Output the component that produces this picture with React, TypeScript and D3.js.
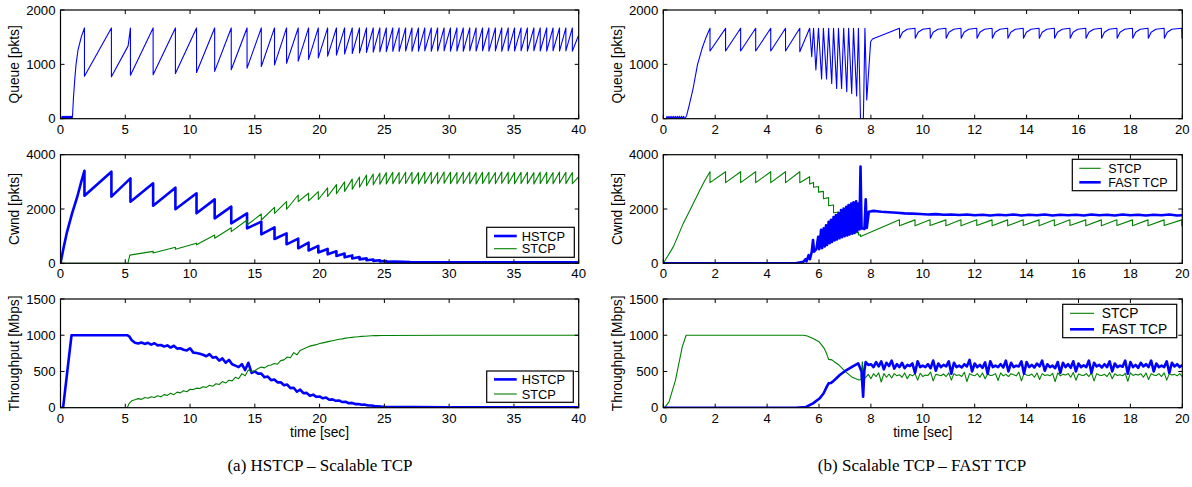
import React from "react";
import * as d3 from "d3";

type Pt = [number, number];

// ================= (a) HSTCP – Scalable TCP =================
const lossA = [1.85, 3.93, 5.4, 7.15, 8.87, 10.5, 11.9, 13.18, 14.4, 15.5, 16.52, 17.45, 18.35, 19.15, 19.9, 20.62, 21.3, 21.93, 22.52, 23.08, 23.62, 24.14, 24.65, 25.15, 25.65, 26.14, 26.64, 27.13, 27.63, 28.12, 28.62, 29.11, 29.61, 30.1, 30.6, 31.09, 31.59, 32.08, 32.58, 33.07, 33.57, 34.06, 34.56, 35.05, 35.55, 36.04, 36.54, 37.03, 37.53, 38.02, 38.52, 39.01, 39.51];

const queueA_peak = 1670;
const queueA_troughs = [780, 770, 800, 810, 830, 850, 870, 900, 930, 960, 990, 1020, 1060, 1090, 1120, 1150, 1170, 1190, 1200, 1210, 1220, 1225, 1230,
  1235, 1240, 1238, 1245, 1240, 1242, 1248, 1240, 1245, 1250, 1242, 1246, 1240, 1248, 1245, 1250, 1243, 1247, 1240, 1250, 1245, 1248, 1242, 1250, 1246, 1244, 1250, 1245, 1248, 1243];
const queueA_head: Pt[] = [[0, 0], [0.08, 0], [0.12, 45], [0.16, 5], [0.2, 45], [0.24, 5], [0.28, 45], [0.32, 5], [0.36, 45], [0.4, 5], [0.44, 45], [0.48, 5], [0.52, 45], [0.56, 5], [0.6, 45], [0.64, 5], [0.68, 45], [0.72, 5], [0.76, 45], [0.8, 5], [0.84, 45], [0.88, 5], [0.9, 0], [0.93, 60], [1.0, 380], [1.1, 720], [1.2, 1000], [1.35, 1260], [1.6, 1500]];
const queueA_extra: Pt[] = [[5.22, 1340], [40, 1540]];

const hsCwndA_peaks = [3410, 3375, 3130, 2945, 2785, 2577, 2355, 2086, 1840, 1534, 1325, 1104, 908, 760, 640, 530, 440, 360, 290, 230, 180, 140, 110, 85];
const hsCwndA_troughs = [2490, 2455, 2270, 2120, 1990, 1840, 1656, 1472, 1288, 1067, 896, 700, 552, 470, 400, 330, 270, 220, 180, 145, 115, 90, 70, 55];
const hsCwndA_head: Pt[] = [[0, 0], [0.25, 600], [0.5, 1150], [0.9, 1850], [1.3, 2460], [1.6, 3000]];
const hsCwndA_tail: Pt[] = [[25.7, 60], [27, 45], [40, 35]];

const stCwndA_peaks = [440, 590, 740, 1040, 1310, 1595, 1816, 2060, 2270, 2515, 2580, 2640, 2780, 2900, 3000, 3100, 3180, 3250, 3290, 3320,
  3340, 3350, 3345, 3355, 3350, 3340, 3355, 3350, 3345, 3360, 3350, 3345, 3355, 3350, 3340, 3355, 3350, 3345, 3360, 3350, 3345, 3355, 3350, 3340, 3355, 3350, 3345, 3360, 3350, 3345];
const stCwndA_troughs = [380, 515, 680, 920, 1165, 1410, 1595, 1840, 1990, 2270, 2300, 2350, 2460, 2560, 2650, 2730, 2800, 2860, 2890, 2910,
  2925, 2935, 2930, 2940, 2935, 2925, 2940, 2935, 2930, 2945, 2935, 2930, 2940, 2935, 2925, 2940, 2935, 2930, 2945, 2935, 2930, 2940, 2935, 2925, 2940, 2935, 2930, 2945, 2935, 2930];
const stCwndA_head: Pt[] = [[0, 0], [5.2, 0], [5.35, 300]];
const stCwndA_tail: Pt[] = [[40, 3190]];

const tpA_t0 = 5.5, tpA_dt = 0.25;
const tpA_hstcp = [930, 895, 885, 900, 880, 895, 870, 890, 860, 865,
  845, 860, 830, 855, 815, 820, 800, 790, 820, 760,
  755, 745, 730, 710, 740, 690, 700, 650, 680, 620,
  660, 600, 580, 560, 600, 520, 620, 480, 500, 470,
  470, 420, 430, 380, 390, 350, 350, 310, 320, 270,
  275, 220, 250, 200, 205, 165, 180, 150, 155, 130,
  140, 110, 115, 95, 100, 78, 82, 62, 66, 50,
  52, 40, 42, 30, 30, 22, 20, 15, 12];
const tpA_hstcp_head: Pt[] = [[0, 0], [0.2, 0], [0.85, 1000], [5.15, 1000], [5.3, 985]];
const tpA_hstcp_tail: Pt[] = [[30, 6], [40, 5]];
const tpA_stcp = [95, 110, 125, 115, 140, 130, 150, 140, 165, 150,
  180, 170, 200, 180, 215, 205, 235, 220, 255, 250,
  270, 265, 290, 280, 310, 295, 330, 320, 360, 340,
  380, 370, 420, 400, 470, 440, 520, 500, 510, 540,
  560, 550, 580, 590, 610, 600, 650, 660, 700, 690,
  760, 730, 790, 810, 830, 850, 860, 870, 885, 895,
  905, 915, 925, 935, 945, 950, 960, 965, 970, 975,
  980, 984, 987, 990, 992, 994, 995, 996, 997];
const tpA_stcp_head: Pt[] = [[0, 0], [5.15, 0], [5.3, 60]];
const tpA_stcp_tail: Pt[] = [[30, 1000], [40, 1000]];

// ================= (b) Scalable TCP – FAST TCP =================
const queueB_head: Pt[] = [[0, 0], [0.12, 0], [0.14, 45], [0.18, 5], [0.22, 45], [0.26, 5], [0.3, 45], [0.34, 5], [0.38, 45], [0.42, 5], [0.46, 45], [0.5, 5], [0.54, 45], [0.58, 5], [0.62, 45], [0.66, 5], [0.7, 45], [0.74, 5], [0.78, 45], [0.82, 5], [0.86, 20], [0.9, 60], [1.0, 250], [1.15, 560], [1.32, 1000], [1.5, 1300], [1.65, 1500]];
const lossB_early = [1.8, 2.4, 2.98, 3.56, 4.14, 4.71];
const queueB_peak = 1663;
const queueB_earlyTrough = [1245, 1245, 1245, 1245, 1245, 1245];
const queueB_chaos: Pt[] = [[5.26, 1663], [5.26, 1233], [5.64, 1663], [5.72, 1140], [5.79, 1663], [5.88, 896], [5.98, 1663], [6.1, 730], [6.17, 1663], [6.29, 730], [6.37, 1663], [6.49, 650], [6.56, 1663], [6.68, 558], [6.75, 1663], [6.87, 558], [6.95, 1663], [7.07, 497], [7.14, 1663], [7.26, 466], [7.33, 1663], [7.45, 417], [7.52, 1663], [7.6, 0], [7.71, 0], [7.77, 1663], [7.84, 343], [7.99, 1417], [8.06, 1466]];
const lossB = [9.1, 9.7, 10.28, 10.89, 11.47, 12.08, 12.67, 13.27, 13.87, 14.48, 15.07, 15.67, 16.28, 16.88, 17.48, 18.08, 18.68, 19.3, 19.98];
const queueB_toothDt = [0, 0.01, 0.12, 0.3];
const queueB_toothLevels = [1663, 1480, 1590, 1645];

const stCwndB_head: Pt[] = [[0, 0], [0.39, 613], [0.77, 1470], [1.16, 2210], [1.41, 2700], [1.6, 3050]];
const stCwndB_earlyTimes = [1.8, 2.4, 2.98, 3.56, 4.14, 4.71, 5.26, 5.64];
const stCwndB_earlyPeaks = [3374, 3374, 3374, 3374, 3374, 3374, 3374, 3190];
const stCwndB_earlyTroughs = [2970, 2970, 2970, 2970, 2970, 2970, 2970, 2920];
const stCwndB_stairTimes = [5.79, 5.98, 6.17, 6.37, 6.56, 6.75, 6.95, 7.14, 7.33, 7.52, 7.6];
const stCwndB_stairPeaks = [2980, 2830, 2650, 2420, 2150, 1890, 1630, 1430, 1280, 1140, 1050];
const stCwndB_stairTroughs = [2800, 2620, 2380, 2120, 1860, 1600, 1400, 1250, 1120, 1040, 990];
const stCwndB_lateTroughs = [1385, 1380, 1390, 1385, 1380, 1390, 1385, 1380, 1390, 1385, 1380, 1390, 1385, 1380, 1390, 1385, 1380, 1390, 1385];
const stCwndB_latePeak = 1600;
const stCwndB_tail: Pt[] = [[20, 1400]];

const fastCwndB_head: Pt[] = [[0, 0], [5.1, 0], [5.25, 30], [5.4, 60], [5.48, 150], [5.52, 70], [5.6, 300], [5.65, 150], [5.72, 420], [5.77, 860], [5.81, 430], [5.9, 520], [5.97, 980], [6.01, 520], [6.08, 1230], [6.12, 560], [6.18, 1290], [6.22, 620], [6.27, 1400], [6.31, 680], [6.37, 1530], [6.41, 740], [6.46, 1600], [6.5, 790], [6.56, 1700], [6.6, 840], [6.65, 1780], [6.69, 880], [6.75, 1850], [6.79, 920], [6.85, 1960], [6.89, 960], [6.95, 2020], [6.99, 1000], [7.05, 2080], [7.09, 1030], [7.14, 2150], [7.18, 1060], [7.24, 2200], [7.28, 1090], [7.33, 2250], [7.37, 1120], [7.43, 2280], [7.47, 1180], [7.52, 2200], [7.56, 1250], [7.6, 3560], [7.64, 1280], [7.72, 1290], [7.75, 1260], [7.8, 2360], [7.84, 1300], [7.92, 1900], [8.1, 1930]];
const fastCwndB_t0 = 8.4, fastCwndB_dt = 0.3;
const fastCwndB_vals = [1900, 1880, 1860, 1840, 1830, 1815, 1800, 1810, 1790, 1800,
  1780, 1800, 1770, 1790, 1760, 1790, 1770, 1800, 1760, 1790,
  1770, 1800, 1760, 1790, 1770, 1790, 1760, 1800, 1770, 1790,
  1760, 1800, 1770, 1790, 1760, 1790, 1770, 1800, 1760];
const fastCwndB_tail: Pt[] = [[20, 1770]];

const stTpB_head: Pt[] = [[0, 0], [0.05, 0], [0.22, 80], [0.47, 380], [0.73, 840], [0.88, 1000], [5.4, 1000], [5.55, 990], [5.75, 957], [6.0, 911], [6.2, 819], [6.3, 740], [6.37, 667], [6.5, 660], [6.6, 630], [6.77, 589], [7.02, 497], [7.28, 419], [7.54, 382], [7.62, 390], [7.67, 635], [7.72, 400], [7.8, 420]];
const stTpB_t0 = 7.9, stTpB_dt = 0.1;
const stTpB_vals = [460, 400, 470, 430, 480, 355, 470, 420, 465, 410,
  470, 440, 455, 420, 480, 400, 460, 440, 470, 380,
  475, 430, 450, 445, 490, 370, 460, 450, 440, 465,
  430, 480, 380, 470, 445, 455, 430, 490, 360, 470,
  450, 440, 470, 420, 480, 400, 465, 445, 450, 470,
  375, 480, 440, 460, 430, 470, 455, 440, 490, 370,
  470, 450, 445, 465, 420, 480, 390, 470, 445, 455,
  440, 475, 360, 480, 440, 460, 450, 470, 420, 485,
  380, 465, 450, 445, 470, 430, 480, 370, 470, 450,
  445, 460, 430, 485, 400, 470, 445, 455, 440, 475,
  365, 480, 445, 460, 450, 470, 420, 480, 390, 470,
  450, 445, 470, 430, 480, 380, 470, 450, 460, 440,
  470, 430];

const fastTpB_head: Pt[] = [[0, 0], [5.1, 0], [5.5, 10], [5.77, 60], [6.03, 130], [6.18, 200], [6.3, 290], [6.37, 336], [6.45, 340], [6.53, 360], [6.65, 400], [6.8, 451], [7.06, 520], [7.32, 575], [7.51, 612], [7.57, 560], [7.64, 500], [7.7, 152], [7.75, 520], [7.8, 630], [7.9, 590]];
const fastTpB_t0 = 8.0, fastTpB_dt = 0.1;
const fastTpB_vals = [600, 560, 630, 570, 640, 530, 620, 575, 650, 540,
  600, 560, 620, 545, 590, 575, 610, 480, 640, 560,
  580, 560, 600, 545, 650, 510, 610, 560, 590, 570,
  640, 470, 620, 560, 580, 555, 600, 570, 660, 500,
  610, 560, 590, 550, 625, 470, 640, 560, 580, 560,
  600, 555, 650, 500, 620, 560, 580, 570, 640, 470,
  630, 560, 590, 555, 610, 570, 650, 510, 600, 560,
  580, 545, 630, 480, 620, 560, 600, 550, 640, 500,
  610, 560, 585, 560, 650, 480, 620, 570, 590, 555,
  600, 560, 640, 500, 610, 560, 580, 565, 650, 470,
  630, 560, 590, 550, 620, 570, 600, 560, 650, 500,
  610, 560, 580, 560, 640, 480, 620, 570, 600, 560,
  590];

// ticks
const xTicksA = [0, 5, 10, 15, 20, 25, 30, 35, 40];
const xTicksB = [0, 2, 4, 6, 8, 10, 12, 14, 16, 18, 20];
const yTicksQueue = [0, 1000, 2000];
const yTicksCwnd = [0, 2000, 4000];
const yTicksTp = [0, 500, 1000, 1500];

// ---------- helpers ----------
const saw = (times: number[], peaks: number[] | number, troughs: number[]): Pt[] =>
  times.flatMap((t, i) => [[t, Array.isArray(peaks) ? peaks[i] : peaks], [t, troughs[i]]] as Pt[]);
const grid = (t0: number, dt: number, vals: number[]): Pt[] => vals.map((v, i) => [t0 + i * dt, v] as Pt);
const merge = (...parts: Pt[][]): Pt[] =>
  parts.flat().map((p, i) => ({ p, i })).sort((a, b) => a.p[0] - b.p[0] || a.i - b.i).map((d) => d.p);

const BLUE = "#0000ff";
const GREEN = "#008000";

const queueA = merge(queueA_head, queueA_extra, saw(lossA, queueA_peak, queueA_troughs));
const hsCwndA = merge(hsCwndA_head, saw(lossA.slice(0, hsCwndA_peaks.length), hsCwndA_peaks, hsCwndA_troughs), hsCwndA_tail);
const stCwndA = merge(stCwndA_head, saw(lossA.slice(3), stCwndA_peaks, stCwndA_troughs), stCwndA_tail);
const hsTpA = merge(tpA_hstcp_head, grid(tpA_t0, tpA_dt, tpA_hstcp), tpA_hstcp_tail);
const stTpA = merge(tpA_stcp_head, grid(tpA_t0, tpA_dt, tpA_stcp), tpA_stcp_tail);

const queueB = merge(
  queueB_head,
  saw(lossB_early, queueB_peak, queueB_earlyTrough),
  queueB_chaos,
  lossB.flatMap((t) => queueB_toothDt.map((dt, k) => [t + dt, queueB_toothLevels[k]] as Pt))
);
const stCwndB = merge(
  stCwndB_head,
  saw(stCwndB_earlyTimes, stCwndB_earlyPeaks, stCwndB_earlyTroughs),
  saw(stCwndB_stairTimes, stCwndB_stairPeaks, stCwndB_stairTroughs),
  saw(lossB, stCwndB_latePeak, stCwndB_lateTroughs),
  stCwndB_tail
);
const fastCwndB = merge(fastCwndB_head, grid(fastCwndB_t0, fastCwndB_dt, fastCwndB_vals), fastCwndB_tail);
const stTpB = merge(stTpB_head, grid(stTpB_t0, stTpB_dt, stTpB_vals));
const fastTpB = merge(fastTpB_head, grid(fastTpB_t0, fastTpB_dt, fastTpB_vals));

// ---------- layout ----------
const COLS = { a: { x0: 60.5, x1: 578.7 }, b: { x0: 663.3, x1: 1182.3 } };
const ROWS = [{ y0: 10, y1: 118.7 }, { y0: 154.7, y1: 263.3 }, { y0: 299, y1: 407.7 }];
const SANS = "'Liberation Sans', Arial, Helvetica, sans-serif";
const TICK_FS = 13.2;
const LABEL_FS = 13.8;

type Series = { pts: Pt[]; color: string; width: number };
type Legend = { w: number; h: number; right: number; top?: number; bottom?: number; rows: number[]; lx0: number; lx1: number; tx: number; fs: number; items: { label: string; color: string; width: number }[] };

function Panel(props: {
  id: string; col: { x0: number; x1: number }; row: { y0: number; y1: number };
  xDomain: [number, number]; xTicks: number[]; yDomain: [number, number]; yTicks: number[];
  ylabel: string; xlabel?: string; series: Series[]; legend?: Legend;
}) {
  const { id, col, row, xDomain, xTicks, yDomain, yTicks, ylabel, xlabel, series, legend } = props;
  const x = d3.scaleLinear().domain(xDomain).range([col.x0, col.x1]);
  const y = d3.scaleLinear().domain(yDomain).range([row.y1, row.y0]);
  const line = d3.line<Pt>().x((d) => x(d[0])).y((d) => y(d[1]));
  const tl = 4;
  let lg: React.ReactNode = null;
  if (legend) {
    const bx = col.x1 - legend.right - legend.w;
    const by = legend.top !== undefined ? row.y0 + legend.top : row.y1 - legend.bottom! - legend.h;
    lg = (
      <g>
        <rect x={bx} y={by} width={legend.w} height={legend.h} fill="#fff" stroke="#000" strokeWidth={1.2} />
        {legend.items.map((it, i) => (
          <g key={i}>
            <line x1={bx + legend.lx0} x2={bx + legend.lx1} y1={by + legend.rows[i]} y2={by + legend.rows[i]} stroke={it.color} strokeWidth={it.width} />
            <text x={bx + legend.tx} y={by + legend.rows[i]} dy="0.36em" fontSize={legend.fs} fontFamily={SANS} fill="#000">{it.label}</text>
          </g>
        ))}
      </g>
    );
  }
  return (
    <g>
      <defs>
        <clipPath id={id}>
          <rect x={col.x0} y={row.y0} width={col.x1 - col.x0} height={row.y1 - row.y0} />
        </clipPath>
      </defs>
      <rect x={col.x0} y={row.y0} width={col.x1 - col.x0} height={row.y1 - row.y0} fill="#fff" />
      <g clipPath={`url(#${id})`}>
        {series.map((s, i) => (
          <path key={i} d={line(s.pts) || ""} fill="none" stroke={s.color} strokeWidth={s.width} strokeLinejoin="round" />
        ))}
      </g>
      <rect x={col.x0} y={row.y0} width={col.x1 - col.x0} height={row.y1 - row.y0} fill="none" stroke="#000" strokeWidth={1.2} />
      {xTicks.map((t) => (
        <g key={"x" + t}>
          <line x1={x(t)} x2={x(t)} y1={row.y1} y2={row.y1 - tl} stroke="#000" strokeWidth={1} />
          <line x1={x(t)} x2={x(t)} y1={row.y0} y2={row.y0 + tl} stroke="#000" strokeWidth={1} />
          <text x={x(t)} y={row.y1 + 14.8} textAnchor="middle" fontSize={TICK_FS} fontFamily={SANS} fill="#000">{t}</text>
        </g>
      ))}
      {yTicks.map((t) => (
        <g key={"y" + t}>
          <line x1={col.x0} x2={col.x0 + tl} y1={y(t)} y2={y(t)} stroke="#000" strokeWidth={1} />
          <line x1={col.x1} x2={col.x1 - tl} y1={y(t)} y2={y(t)} stroke="#000" strokeWidth={1} />
          <text x={col.x0 - 5} y={y(t)} dy="0.36em" textAnchor="end" fontSize={TICK_FS} fontFamily={SANS} fill="#000">{t}</text>
        </g>
      ))}
      <text transform={`translate(${col.x0 - 46},${(row.y0 + row.y1) / 2}) rotate(-90)`} textAnchor="middle" dy="0.36em" fontSize={LABEL_FS} fontFamily={SANS} fill="#000">{ylabel}</text>
      {xlabel && (
        <text x={(col.x0 + col.x1) / 2} y={row.y1 + 29} textAnchor="middle" fontSize={LABEL_FS} fontFamily={SANS} fill="#000">{xlabel}</text>
      )}
      {lg}
    </g>
  );
}

export default function App() {
  const thin = 1.1, thick = 2.6;
  return (
    <svg width={1192} height={487} style={{ position: "absolute", left: 0, top: 0, background: "#fff" }}>
      <rect x={0} y={0} width={1192} height={487} fill="#fff" />
      {/* (a) */}
      <Panel id="a1" col={COLS.a} row={ROWS[0]} xDomain={[0, 40]} xTicks={xTicksA} yDomain={[0, 2000]} yTicks={yTicksQueue} ylabel="Queue [pkts]"
        series={[{ pts: queueA, color: BLUE, width: thin }]} />
      <Panel id="a2" col={COLS.a} row={ROWS[1]} xDomain={[0, 40]} xTicks={xTicksA} yDomain={[0, 4000]} yTicks={yTicksCwnd} ylabel="Cwnd [pkts]"
        series={[{ pts: hsCwndA, color: BLUE, width: thick }, { pts: stCwndA, color: GREEN, width: thin }]}
        legend={{ w: 87.6, h: 30, right: 4.4, bottom: 6, rows: [8.7, 21.4], lx0: 7.3, lx1: 30, tx: 35, fs: 12.8, items: [{ label: "HSTCP", color: BLUE, width: thick }, { label: "STCP", color: GREEN, width: thin }] }} />
      <Panel id="a3" col={COLS.a} row={ROWS[2]} xDomain={[0, 40]} xTicks={xTicksA} yDomain={[0, 1500]} yTicks={yTicksTp} ylabel="Throughput [Mbps]" xlabel="time [sec]"
        series={[{ pts: hsTpA, color: BLUE, width: thick }, { pts: stTpA, color: GREEN, width: thin }]}
        legend={{ w: 86.6, h: 31.3, right: 5.4, bottom: 5.4, rows: [8.4, 23], lx0: 7.3, lx1: 30, tx: 35, fs: 12.8, items: [{ label: "HSTCP", color: BLUE, width: thick }, { label: "STCP", color: GREEN, width: thin }] }} />
      {/* (b) */}
      <Panel id="b1" col={COLS.b} row={ROWS[0]} xDomain={[0, 20]} xTicks={xTicksB} yDomain={[0, 2000]} yTicks={yTicksQueue} ylabel="Queue [pkts]"
        series={[{ pts: queueB, color: BLUE, width: thin }]} />
      <Panel id="b2" col={COLS.b} row={ROWS[1]} xDomain={[0, 20]} xTicks={xTicksB} yDomain={[0, 4000]} yTicks={yTicksCwnd} ylabel="Cwnd [pkts]"
        series={[{ pts: stCwndB, color: GREEN, width: thin }, { pts: fastCwndB, color: BLUE, width: thick }]}
        legend={{ w: 104.4, h: 31.4, right: 5.6, top: 4.6, rows: [9, 23], lx0: 7, lx1: 28.4, tx: 36, fs: 12.5, items: [{ label: "STCP", color: GREEN, width: thin }, { label: "FAST TCP", color: BLUE, width: thick }] }} />
      <Panel id="b3" col={COLS.b} row={ROWS[2]} xDomain={[0, 20]} xTicks={xTicksB} yDomain={[0, 1500]} yTicks={yTicksTp} ylabel="Throughput [Mbps]" xlabel="time [sec]"
        series={[{ pts: stTpB, color: GREEN, width: thin }, { pts: fastTpB, color: BLUE, width: thick }]}
        legend={{ w: 114, h: 33.4, right: 5.6, top: 5.3, rows: [9, 25], lx0: 7.3, lx1: 31.3, tx: 39, fs: 13.8, items: [{ label: "STCP", color: GREEN, width: thin }, { label: "FAST TCP", color: BLUE, width: thick }] }} />
      <text x={320} y={471} textAnchor="middle" fontSize={17} fontFamily="'Liberation Serif', 'Times New Roman', serif" fill="#000">(a) HSTCP – Scalable TCP</text>
      <text x={922} y={471} textAnchor="middle" fontSize={17} fontFamily="'Liberation Serif', 'Times New Roman', serif" fill="#000">(b) Scalable TCP – FAST TCP</text>
    </svg>
  );
}
